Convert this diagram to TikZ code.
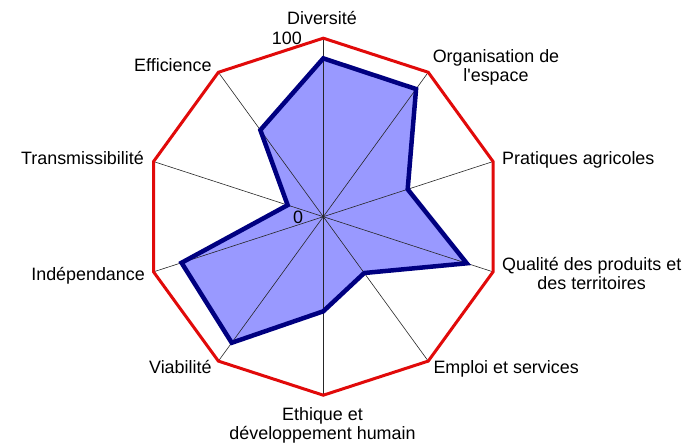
\documentclass[tikz,border=0pt]{standalone}
\usepackage{fontspec}
\setmainfont{Liberation Sans}[Ligatures=TeXOff]
\begin{document}
\begin{tikzpicture}[x=1pt,y=1pt,
  lbl/.style={font=\fontsize{17.9}{19}\selectfont, inner sep=0pt, align=center},
  spoke/.style={draw=black!85, line width=0.6pt},
  frame/.style={draw={rgb,255:red,225;green,10;blue,10}, line width=3pt, line join=miter},
  datafill/.style={fill={rgb,255:red,153;green,153;blue,255}},
  dataline/.style={draw={rgb,255:red,0;green,0;blue,128}, line width=4.5pt, line join=miter}]
\useasboundingbox (0,0) rectangle (687,443);
\coordinate (C) at (323.3,226.3);
\foreach \k/\v in {0/0.887,1/0.884,2/0.497,3/0.845,4/0.39,5/0.53,6/0.873,7/0.835,8/0.21,9/0.60}{
  \coordinate (V\k) at ([shift={(C)}]90-36*\k:178.5);
  \coordinate (D\k) at ([shift={(C)}]90-36*\k:178.5*\v);
}
\path[datafill] (D0)--(D1)--(D2)--(D3)--(D4)--(D5)--(D6)--(D7)--(D8)--(D9)--cycle;
\foreach \k in {0,...,9}{ \draw[spoke] (C) -- (V\k); }
\draw[dataline] (D0)--(D1)--(D2)--(D3)--(D4)--(D5)--(D6)--(D7)--(D8)--(D9)--cycle;
\draw[frame] (V0)--(V1)--(V2)--(V3)--(V4)--(V5)--(V6)--(V7)--(V8)--(V9)--cycle;
% labels
\node[lbl, anchor=base] (l0) at (322,418) {Diversité};
\node[lbl, anchor=base east] (m100) at (302,398) {100};
\node[lbl, anchor=base] (m0) at (298,219) {0};
\node[lbl, anchor=base] (l1) at (496,361.3) {Organisation de\\l'espace};
\node[lbl, anchor=base west] (l2) at (502,278) {Pratiques agricoles};
\node[lbl, anchor=base] (l3) at (591.7,153.7) {Qualité des produits et\\des territoires};
\node[lbl, anchor=base west] (l4) at (433.3,69.7) {Emploi et services};
\node[lbl, anchor=base] (l5) at (322.5,3.7) {Ethique et\\développement humain};
\node[lbl, anchor=base east] (l6) at (211.7,69.7) {Viabilité};
\node[lbl, anchor=base east] (l7) at (145,162.3) {Indépendance};
\node[lbl, anchor=base east] (l8) at (144,278) {Transmissibilité};
\node[lbl, anchor=base east] (l9) at (211.7,371.3) {Efficience};
\end{tikzpicture}
\end{document}
